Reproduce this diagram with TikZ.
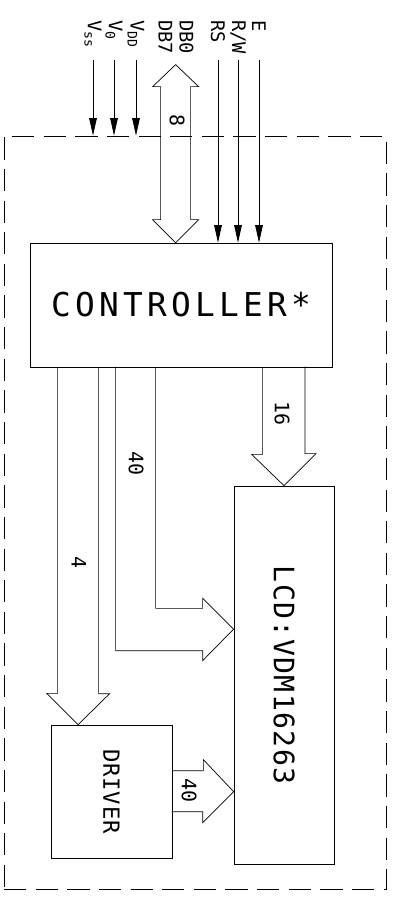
\documentclass[tikz,border=0pt]{standalone}
\usepackage{fontspec}
\usepackage{tikz}
\usetikzlibrary{calc,arrows.meta}
\newfontfamily\cadfont{DejaVu Sans Mono}

\begin{document}
\begin{tikzpicture}[x=0.03cm,y=-0.03cm,line width=0.6pt,
	box/.style={draw,inner sep=0pt,font=\cadfont},
	sig/.style={-{Triangle[length=15pt,width=6.5pt]}},
	pin/.style={font=\cadfont\fontsize{16}{18}\selectfont,rotate=-90,anchor=west,inner sep=0pt},
	num/.style={font=\cadfont\fontsize{17}{19}\selectfont,rotate=-90,inner sep=0pt}]
	\useasboundingbox (0,0) rectangle (398,899);
	%frame
	\node[draw,dash pattern=on 19pt off 8pt,minimum width=11.46cm,minimum height=22.59cm,inner sep=0pt] (frame) at (195,512.5) {};
	%blocks
	\node[box,minimum width=9.06cm,minimum height=3.72cm] (ctrl) at (181,305) {\fontsize{28}{30}\selectfont\addfontfeature{LetterSpace=13}CONTROLLER*};
	\node[box,minimum width=3cm,minimum height=11.34cm] (lcd) at (284,675) {\fontsize{24}{26}\selectfont\addfontfeature{LetterSpace=5}\rotatebox{-90}{LCD:VDM16263}};
	\node[box,minimum width=3.63cm,minimum height=3.99cm] (drv) at (111.5,791.5) {\fontsize{19}{21}\selectfont\addfontfeature{LetterSpace=4}\rotatebox{-90}{DRIVER}};
	%pins
	\node[pin] (vss) at (93,20) {V\textsubscript{ss}};
	\node[pin] (vo) at (114,20) {V\textsubscript{0}};
	\node[pin] (vdd) at (136,20) {V\textsubscript{DD}};
	\node[pin,align=left] (db) at (176,20) {DB0\\DB7};
	\node[pin] (rs) at (218,20) {RS};
	\node[pin] (rw) at (238,20) {R/W};
	\node[pin] (en) at (259,20) {E};
	%supply
	\draw[sig] (vss.center |- 0,60) -- (vss.center |- frame.north);
	\draw[sig] (vo.center |- 0,60) -- (vo.center |- frame.north);
	\draw[sig] (vdd.center |- 0,60) -- (vdd.center |- frame.north);
	%control lines
	\draw[sig] (rs.center |- 0,60) -- (rs.center |- ctrl.north);
	\draw[sig] (rw.center |- 0,60) -- (rw.center |- ctrl.north);
	\draw[sig] (en.center |- 0,60) -- (en.center |- ctrl.north);
	%data bus
	\draw ($(ctrl.north west)+(146,0)$) -- ++(-23,-23) -- ++(8,0) -- ++(0,-133) -- ++(-8,0) -- ++(23,-22)
		-- ++(23,22) -- ++(-8,0) -- ++(0,133) -- ++(8,0) -- cycle;
	%buses out of the controller
	\draw ($(ctrl.south west)+(233,0)$) -- ++(0,87) -- ++(-11,0) -- (lcd.north) -- ++(32,-32) -- ++(-11,0) -- ++(0,-87);
	\draw ($(ctrl.south west)+(126,0)$) |- ++(47,241) -- ++(0,-10) -- ($(lcd.north west)+(0,143.5)$)
		-- ++(-31,31.5) -- ++(0,-10) -| ++(-87,-284);
	\draw ($(ctrl.south west)+(28,0)$) -- ++(0,326) -- ++(-11,0) -- ($(drv.north west)+(27.5,0)$)
		-- ++(31.5,-31) -- ++(-11,0) -- ++(0,-326);
	%driver to lcd
	\draw ($(drv.north east)+(0,46)$) -- ++(31,0) -- ++(0,-11) -- ($(lcd.north west)+(0,306)$)
		-- ++(-31,31) -- ++(0,-11) -- ++(-31,0);
	%widths
	\node[num] (n8) at (177,120) {8};
	\node[num] (n16) at (282,413) {16};
	\node[num] (n40a) at (136,463) {40};
	\node[num] (n4) at (79,562) {4};
	\node[num] (n40b) at (189,790) {40};
\end{tikzpicture}
\end{document}
